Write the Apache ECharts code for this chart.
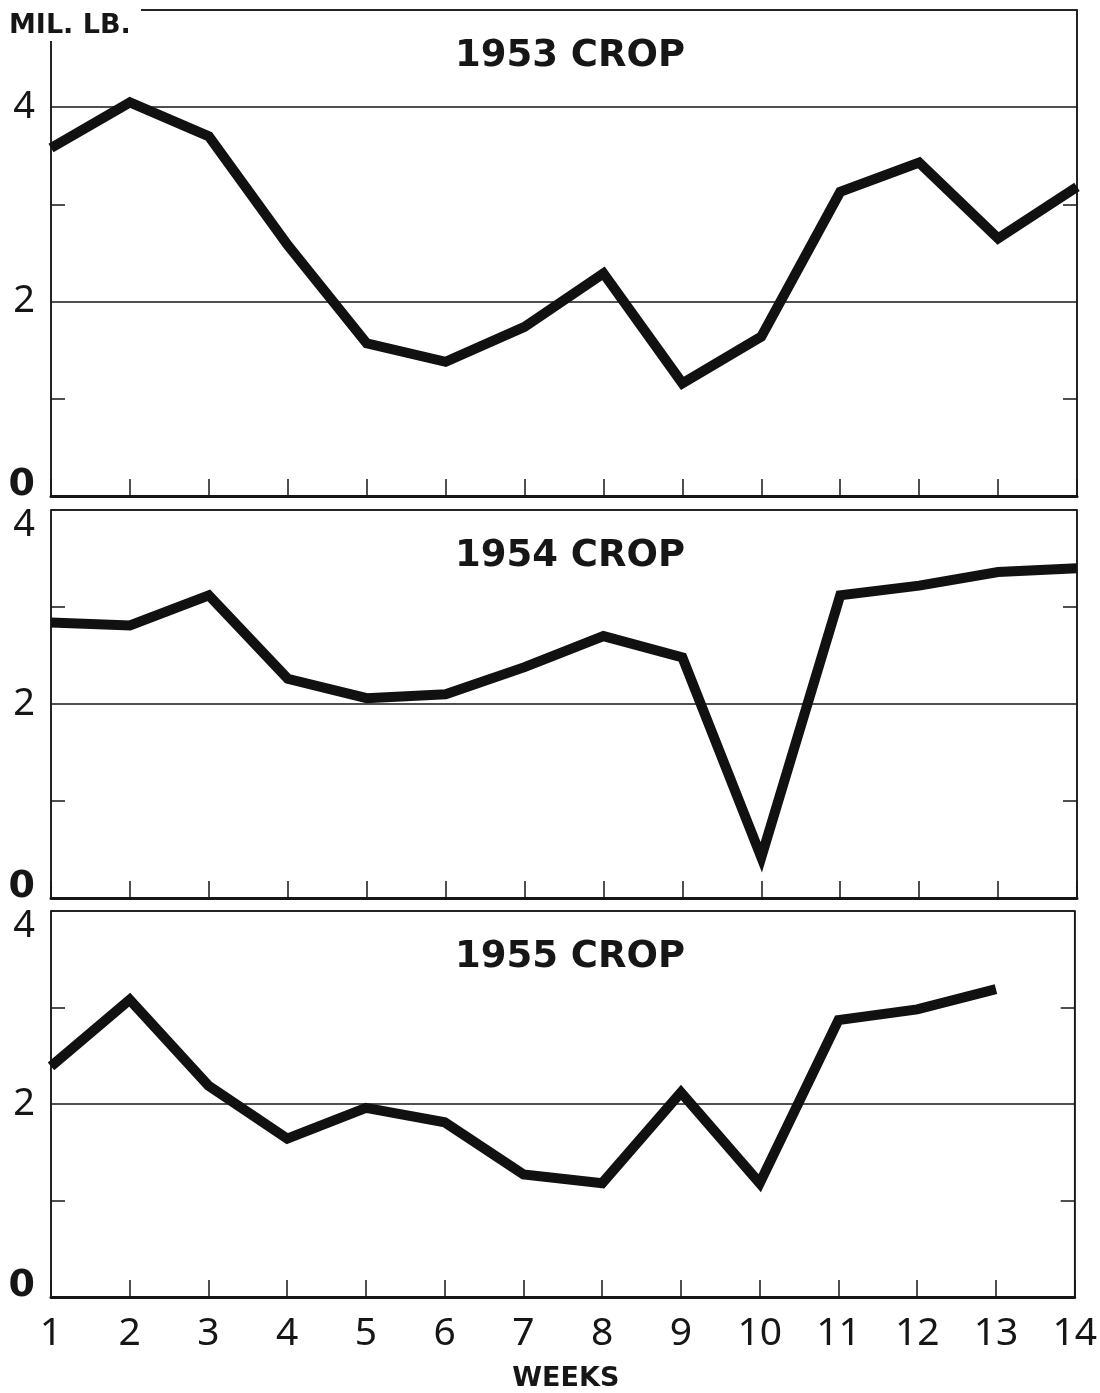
<!DOCTYPE html>
<html>
<head>
<meta charset="utf-8">
<script src="https://cdn.jsdelivr.net/npm/echarts@6/dist/echarts.min.js"></script>
<style>
html,body{margin:0;padding:0;background:#fff;}
#chart{width:1100px;height:1393px;}
</style>
</head>
<body>
<div id="chart"></div>
<script>
// ---- data ----
var weeks = [1,2,3,4,5,6,7,8,9,10,11,12,13,14];
var crop1953 = [3.58, 4.05, 3.70, 2.58, 1.57, 1.38, 1.74, 2.29, 1.16, 1.64, 3.13, 3.43, 2.65, 3.18];
var crop1954 = [2.84, 2.81, 3.12, 2.26, 2.06, 2.10, 2.38, 2.70, 2.48, 0.42, 3.12, 3.22, 3.36, 3.40];
var crop1955 = [2.39, 3.08, 2.19, 1.64, 1.96, 1.81, 1.27, 1.18, 2.12, 1.18, 2.87, 2.98, 3.19, null];
var panelTitles = ['1953 CROP', '1954 CROP', '1955 CROP'];
var yTickLabels = ['0', '2', '4'];
var yUnit = 'MIL. LB.';
var xName = 'WEEKS';

var INK = '#161616';
var grids = [
  {left: 51, right: 23, top: 10, height: 486},
  {left: 51, right: 23, top: 510, height: 388},
  {left: 51, right: 23, top: 911, height: 391}
];
var yMax = [5, 4, 4];
var seriesData = [crop1953, crop1954, crop1955];

function pairs(arr){
  return weeks.map(function(w,i){ return [w, arr[i]]; });
}

var option = {
  backgroundColor: '#fff',
  animation: false,
  title: panelTitles.map(function(t, i){
    return {
      text: t, left: 565, top: [33, 533, 934][i], textAlign: 'center',
      textStyle: {fontFamily: 'DejaVu Sans', fontWeight: 'bold', fontSize: 37, color: INK}
    };
  }),
  grid: grids.map(function(g){
    return Object.assign({show: true, borderColor: INK, borderWidth: 1.5, backgroundColor: 'transparent'}, g);
  }),
  xAxis: grids.map(function(g, i){
    return {
      type: 'value', gridIndex: i, min: 1, max: 14, interval: 1,
      axisLine: {show: true, onZero: false, lineStyle: {color: INK, width: 3}},
      axisTick: {show: true, inside: true, length: 17, lineStyle: {color: INK, width: 1.5}},
      splitLine: {show: false},
      axisLabel: {show: i === 2, margin: 17, fontFamily: 'Noto Sans', fontSize: 39, color: INK},
      name: i === 2 ? xName : '', nameLocation: 'middle', nameGap: 68,
      nameTextStyle: {fontFamily: 'DejaVu Sans', fontWeight: 'bold', fontSize: 27, color: INK, padding: [0,0,0,6]}
    };
  }),
  yAxis: [],
  series: [],
  graphic: [
    {type: 'rect', z: 100, shape: {x: 0, y: 0, width: 141, height: 41}, style: {fill: '#fff'}},
    {type: 'text', z: 101, left: 9, top: 12, style: {text: yUnit, fontFamily: 'DejaVu Sans', fontWeight: 'bold', fontSize: 27, fill: INK}}
  ]
};

grids.forEach(function(g, i){
  var max = yMax[i];
  option.yAxis.push({
    type: 'value', gridIndex: i, position: 'left', min: 0, max: max, interval: 2,
    axisLine: {show: true, lineStyle: {color: INK, width: 1.5}},
    axisTick: {show: false, inside: true},
    minorTick: {show: true, inside: true, splitNumber: 2, length: 14, lineStyle: {color: INK, width: 1.5}},
    splitLine: {show: true, lineStyle: {color: INK, width: 1.5}},
    axisLabel: {
      margin: 16, fontFamily: 'Noto Sans', fontSize: 38, color: INK,
      formatter: function(v){
        var s = String(v);
        if (yTickLabels.indexOf(s) < 0) return '';
        if (v === 0) return '{z|' + s + '}';
        if (v === max) return '{t|' + s + '}';
        return s;
      },
      rich: {
        z: {fontFamily: 'DejaVu Sans', fontWeight: 'bold', fontSize: 38, color: INK, padding: [0,0,22,0]},
        t: {fontFamily: 'Noto Sans', fontSize: 38, color: INK, padding: [30,0,0,0]}
      }
    }
  });
  option.yAxis.push({
    type: 'value', gridIndex: i, position: 'right', min: 0, max: max, interval: 2,
    axisLine: {show: true, lineStyle: {color: INK, width: 1.5}},
    axisTick: {show: false, inside: true},
    minorTick: {show: true, inside: true, splitNumber: 2, length: 14, lineStyle: {color: INK, width: 1.5}},
    splitLine: {show: false},
    axisLabel: {show: false}
  });
  option.series.push({
    type: 'line', xAxisIndex: i, yAxisIndex: i * 2,
    data: pairs(seriesData[i]), showSymbol: false, symbol: 'none',
    connectNulls: false,
    lineStyle: {color: '#111', width: 10, join: 'miter', cap: 'butt'},
    z: 5
  });
});

var chart = echarts.init(document.getElementById('chart'), null, {renderer: 'canvas'});
chart.setOption(option);
</script>
</body>
</html>
